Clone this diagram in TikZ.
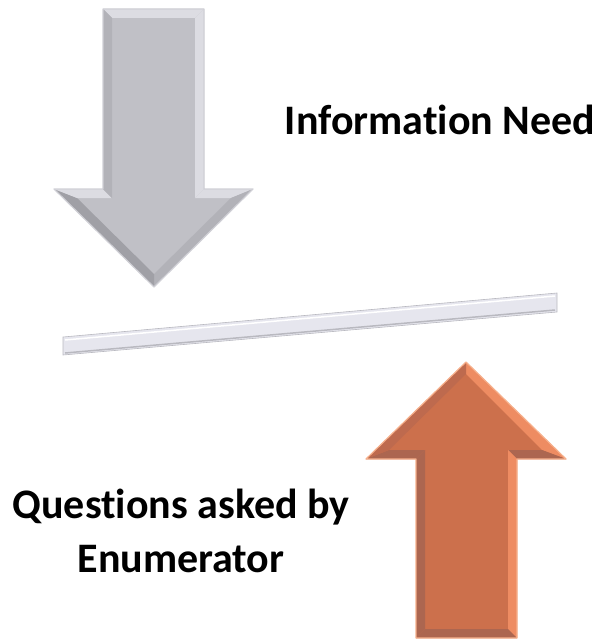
\documentclass[tikz,border=0pt]{standalone}
\usepackage{fontspec}
\setmainfont{Carlito}[Ligatures=NoCommon]
\usepackage{tikz}
\usetikzlibrary{positioning,calc}

\definecolor{grayMain}{RGB}{192,192,198}
\definecolor{grayLight}{RGB}{220,220,226}
\definecolor{grayMid}{RGB}{178,178,184}
\definecolor{grayDark}{RGB}{160,160,166}
\definecolor{grayEdge}{RGB}{208,208,214}
\definecolor{orangeMain}{RGB}{204,112,76}
\definecolor{orangeLight}{RGB}{238,140,98}
\definecolor{orangeMid}{RGB}{190,106,78}
\definecolor{orangeDark}{RGB}{172,102,80}
\definecolor{orangeEdge}{RGB}{246,176,140}
\definecolor{barMain}{RGB}{230,230,238}
\definecolor{barEdge}{RGB}{185,185,192}

\tikzset{
  label text/.style={font=\bfseries\fontsize{42}{52}\selectfont, inner sep=0pt},
  face/.style={draw=none, fill=#1},
}

\begin{document}
\begin{tikzpicture}[x=1pt,y=-1pt]
      \useasboundingbox (0,0) rectangle (604,642);

      % gray arrow, pointing down
      \coordinate (g1) at (103,9);   \coordinate (gi1) at (112,18);
      \coordinate (g2) at (204,9);   \coordinate (gi2) at (195,18);
      \coordinate (g3) at (204,189); \coordinate (gi3) at (195,198);
      \coordinate (g4) at (253,189); \coordinate (gi4) at (231,198);
      \coordinate (g5) at (154,287); \coordinate (gi5) at (154,274);
      \coordinate (g6) at (54,189);  \coordinate (gi6) at (77,198);
      \coordinate (g7) at (103,189); \coordinate (gi7) at (112,198);
      \fill[grayMain] (g1) -- (g2) -- (g3) -- (g4) -- (g5) -- (g6) -- (g7) -- cycle;
      \fill[face=grayLight] (g1) -- (g2) -- (gi2) -- (gi1) -- cycle;
      \fill[face=grayLight] (g2) -- (g3) -- (gi3) -- (gi2) -- cycle;
      \fill[face=grayLight] (g3) -- (g4) -- (gi4) -- (gi3) -- cycle;
      \fill[face=grayMid] (g4) -- (g5) -- (gi5) -- (gi4) -- cycle;
      \fill[face=grayDark] (g5) -- (g6) -- (gi6) -- (gi5) -- cycle;
      \fill[face=grayLight] (g6) -- (g7) -- (gi7) -- (gi6) -- cycle;
      \fill[face=grayMid] (g7) -- (g1) -- (gi1) -- (gi7) -- cycle;
      \draw[grayEdge, line width=1.2pt, line join=round]
        (g1) -- (g2) -- (g3) -- (g4) -- (g5) -- (g6) -- (g7) -- cycle;

      % bar
      \coordinate (b1) at (63,337);
      \coordinate (b2) at (557,293);
      \coordinate (b3) at (557,312);
      \coordinate (b4) at (63,355);
      \fill[barMain] (b1) -- (b2) -- (b3) -- (b4) -- cycle;
      \draw[white, line width=1.5pt] ($(b1)+(2,3)$) -- ($(b2)+(-2,3)$);
      \draw[barEdge, line width=1.5pt] ($(b4)+(2,-2)$) -- ($(b3)+(-2,-2)$);
      \draw[barEdge, line width=0.6pt] (b1) -- (b2) -- (b3) -- (b4) -- cycle;

      % orange arrow, pointing up
      \coordinate (o1) at (466,362); \coordinate (oi1) at (466,374);
      \coordinate (o2) at (566,459); \coordinate (oi2) at (542,450);
      \coordinate (o3) at (517,459); \coordinate (oi3) at (508,450);
      \coordinate (o4) at (517,638); \coordinate (oi4) at (508,629);
      \coordinate (o5) at (416,638); \coordinate (oi5) at (425,629);
      \coordinate (o6) at (416,459); \coordinate (oi6) at (425,450);
      \coordinate (o7) at (366,459); \coordinate (oi7) at (389,450);
      \fill[orangeMain] (o1) -- (o2) -- (o3) -- (o4) -- (o5) -- (o6) -- (o7) -- cycle;
      \fill[face=orangeLight] (o1) -- (o2) -- (oi2) -- (oi1) -- cycle;
      \fill[face=orangeDark] (o2) -- (o3) -- (oi3) -- (oi2) -- cycle;
      \fill[face=orangeLight] (o3) -- (o4) -- (oi4) -- (oi3) -- cycle;
      \fill[face=orangeDark] (o4) -- (o5) -- (oi5) -- (oi4) -- cycle;
      \fill[face=orangeDark] (o5) -- (o6) -- (oi6) -- (oi5) -- cycle;
      \fill[face=orangeDark] (o6) -- (o7) -- (oi7) -- (oi6) -- cycle;
      \fill[face=orangeMid] (o7) -- (o1) -- (oi1) -- (oi7) -- cycle;
      \draw[orangeEdge, line width=1.2pt, line join=round]
        (o1) -- (o2) -- (o3) -- (o4) -- (o5) -- (o6) -- (o7) -- cycle;

      % labels
      \node[label text, anchor=base] (need) at (440,134) {Information Need};
      \node[label text, anchor=base] (asked) at (181,518) {Questions asked by};
      \node[label text, anchor=base] (enum) at (181,572) {Enumerator};
\end{tikzpicture}
\end{document}
